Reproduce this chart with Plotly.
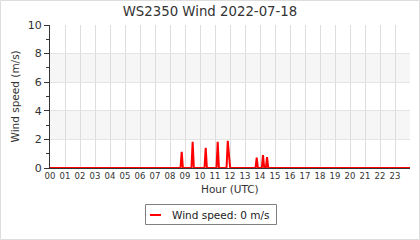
import plotly.graph_objects as go

# ---- data ----
hours = [0.00,
         8.70, 8.78, 8.86,
         9.43, 9.51, 9.59,
         10.30, 10.38, 10.46,
         11.10, 11.18, 11.26,
         11.77, 11.85, 11.93, 12.01,
         13.70, 13.78, 13.86,
         14.12, 14.20, 14.28,
         14.39, 14.47, 14.55,
         24.00]
speed = [0.0,
         0.0, 1.14, 0.0,
         0.0, 1.84, 0.0,
         0.0, 1.42, 0.0,
         0.0, 1.84, 0.0,
         0.0, 1.90, 0.6, 0.0,
         0.0, 0.72, 0.0,
         0.0, 0.91, 0.0,
         0.0, 0.77, 0.0,
         0.0]
hour_ticks = list(range(0, 25))
hour_labels = [f"{h:02d}" for h in range(24)] + [""]
band_ranges = [(2, 4), (6, 8)]
title_text = "WS2350 Wind 2022-07-18"
legend_text = "Wind speed: 0 m/s"
x_title = "Hour (UTC)"
y_title = "Wind speed (m/s)"

W, H = 420, 240
L, R, T, B = 50, 10, 25, 72
PW, PH = W - L - R, H - T - B
FONT = "DejaVu Sans"
TXT = "#333333"

def px(x):
    return (x - L) / PW

def py(y):
    return (H - B - y) / PH

fig = go.Figure()
fig.add_trace(go.Scatter(x=hours, y=speed, mode="lines",
                         line=dict(color="#ff0000", width=2),
                         showlegend=False, hoverinfo="skip"))

shapes = []
for y0, y1 in band_ranges:
    shapes.append(dict(type="rect", xref="paper", yref="y", x0=0, x1=1, y0=y0, y1=y1,
                       fillcolor="#f6f6f6", line=dict(width=0), layer="below"))
# legend box
shapes.append(dict(type="rect", xref="paper", yref="paper",
                   x0=px(145.5), x1=px(276.5), y0=py(224.5), y1=py(204.5),
                   line=dict(color="#808080", width=1), fillcolor="white"))
shapes.append(dict(type="line", xref="paper", yref="paper",
                   x0=px(150), x1=px(161), y0=py(215), y1=py(215),
                   line=dict(color="#ff0000", width=2)))
# outer frame
shapes.append(dict(type="rect", xref="paper", yref="paper",
                   x0=px(0.5), x1=px(419.5), y0=py(239.5), y1=py(0.5),
                   line=dict(color="#dddddd", width=1)))

annotations = [
    dict(text=legend_text, xref="paper", yref="paper", x=px(169.5), y=py(214.5),
         xanchor="left", yanchor="middle", showarrow=False,
         font=dict(family=FONT, size=10.5, color="#222222")),
    dict(text=x_title, xref="paper", yref="paper", x=0.5, y=py(188.5),
         xanchor="center", yanchor="middle", showarrow=False,
         font=dict(family=FONT, size=10.5, color=TXT)),
    dict(text=y_title, xref="paper", yref="paper", x=px(14), y=0.5, textangle=-90,
         xanchor="center", yanchor="middle", showarrow=False,
         font=dict(family=FONT, size=10.5, color=TXT)),
]

fig.update_layout(
    width=W, height=H,
    margin=dict(l=L, r=R, t=T, b=B, pad=0),
    paper_bgcolor="white", plot_bgcolor="white",
    font=dict(family=FONT, color=TXT),
    title=dict(text=title_text, x=0.5, xref="container", y=1 - 11 / H,
               yref="container", xanchor="center", yanchor="middle",
               font=dict(family=FONT, size=13.3, color=TXT)),
    shapes=shapes, annotations=annotations, showlegend=False,
)
fig.update_xaxes(range=[0, 24], tickmode="array", tickvals=hour_ticks, ticktext=hour_labels,
                 showgrid=True, gridcolor="#dddddd", gridwidth=1,
                 showline=True, linecolor="#333333", linewidth=1,
                 ticks="", tickfont=dict(family=FONT, size=8.5, color=TXT),
                 zeroline=False, fixedrange=True)
fig.update_yaxes(range=[0, 10], tickmode="linear", tick0=0, dtick=2,
                 showgrid=True, gridcolor="#e4e4e4", gridwidth=1,
                 showline=True, linecolor="#333333", linewidth=1,
                 ticks="outside", ticklen=5, tickcolor="#333333",
                 minor=dict(dtick=1, ticks="outside", ticklen=3, tickcolor="#333333", showgrid=False),
                 tickfont=dict(family=FONT, size=11, color=TXT),
                 zeroline=False, fixedrange=True)

fig.write_html("out.html", config={"displayModeBar": False})
